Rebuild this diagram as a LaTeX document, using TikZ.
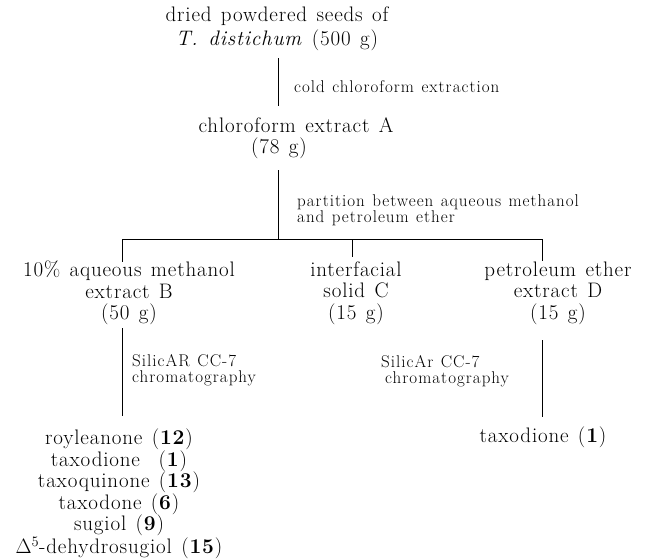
\documentclass[tikz,border=0pt]{standalone}
\usepackage{fontspec}
\setmainfont{Latin Modern Roman}[LetterSpace=4,WordSpace=1.3]
\newfontfamily\labfont{Latin Modern Roman}[LetterSpace=6,WordSpace=1.2]
\begin{document}
\begin{tikzpicture}[x=1pt,y=-1pt,
  main/.style={font=\fontsize{21}{21.6}\selectfont, align=center, inner sep=0pt},
  lab/.style={font=\labfont\fontsize{17}{16.5}\selectfont, align=left, inner sep=0pt, anchor=west},
  conn/.style={line width=1pt}]
\useasboundingbox (0,0) rectangle (647,558);
\node[main, font=\fontsize{21}{24}\selectfont] (seeds) at (277,29) {dried powdered seeds of\\\textit{T. distichum} (500 g)};
\node[main, font=\fontsize{21}{22.5}\selectfont] (extA) at (296,138) {chloroform extract A\\[-1pt](78 g)\hspace*{34pt}};
\node[lab] (l1) at (294,87) {cold chloroform extraction};
\node[lab] (l2) at (297,210) {partition between aqueous methanol\\and petroleum ether};
\node[main] (extB) at (129,293) {10\% aqueous methanol\\extract B\\(50 g)};
\node[main] (solC) at (356,293) {interfacial\\solid C\\(15 g)};
\node[main] (extD) at (558,293) {petroleum ether\\extract D\\(15 g)};
\node[lab] (l3) at (132,370) {SilicAR CC-7\\chromatography};
\node[lab] (l4) at (381,371) {SilicAr CC-7\\\hspace{4pt}chromatography};
\node[main] (taxD) at (543,437) {taxodione (\textbf{1})};
\node[main] (listB) at (119,494) {royleanone (\textbf{12})\\taxodione\ \ (\textbf{1})\\taxoquinone (\textbf{13})\\taxodone (\textbf{6})\\sugiol (\textbf{9})\\$\Delta^{5}$-dehydrosugiol (\textbf{15})};
\coordinate (j) at (278,239);
\coordinate (jb) at (122,239);
\coordinate (jc) at (352,239);
\coordinate (jd) at (542,239);
\coordinate (s1) at (278,58);
\coordinate (s2) at (278,106);
\coordinate (a1) at (278,170);
\coordinate (b1) at (122,328);
\coordinate (b2) at (122,416);
\coordinate (d1) at (542,340);
\coordinate (d2) at (542,417);
\draw[conn] (s1) -- (s2);
\draw[conn] (a1) -- (j);
\draw[conn] (jb) -- (jd);
\draw[conn] (jb) -- (122,262);
\draw[conn] (jc) -- (352,257);
\draw[conn] (jd) -- (542,261);
\draw[conn] (b1) -- (b2);
\draw[conn] (d1) -- (d2);
\end{tikzpicture}
\end{document}
